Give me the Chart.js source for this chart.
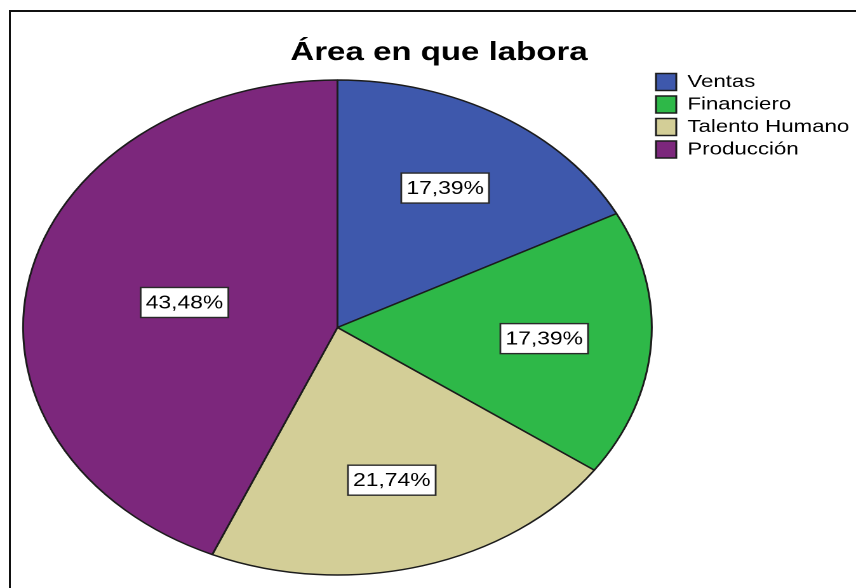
<!DOCTYPE html>
<html lang="es">
<head>
<meta charset="utf-8">
<title>Área en que labora</title>
<script src="https://cdn.jsdelivr.net/npm/chart.js@4.4.1/dist/chart.umd.min.js"></script>
<style>
  html, body { margin: 0; padding: 0; background: #fff; overflow: hidden; }
  body { width: 856px; height: 588px; position: relative; }
  /* marco del visor, sale por la derecha y por abajo */
  .marco { position: absolute; left: 9px; top: 10px; width: 900px; height: 700px;
           border-left: 2px solid #111; border-top: 2px solid #111; }
  /* el grafico original esta estirado a lo ancho (pastel eliptico) */
  .lienzo { position: absolute; left: 0; top: 0; width: 700px; height: 588px;
            transform: scaleX(1.27); transform-origin: 0 0; }
</style>
</head>
<body>
<div class="marco"></div>
<div class="lienzo"><canvas id="grafico" width="700" height="588"></canvas></div>
<script>
// ---- DATOS ----
var titulo      = 'Área en que labora';
var categorias  = ['Ventas', 'Financiero', 'Talento Humano', 'Producción'];
var porcentajes = [17.39, 17.39, 21.74, 43.48];
var colores     = ['#3e58ac', '#2eb848', '#d3ce97', '#7c277c'];

function fmtPct(v) {
  return v.toFixed(2).replace('.', ',') + '%';
}

// ---- ETIQUETAS EN CAJA BLANCA (centroide de cada sector) ----
var pluginEtiquetas = {
  id: 'etiquetas',
  afterDatasetsDraw: function(chart) {
    var ctx  = chart.ctx;
    var meta = chart.getDatasetMeta(0);
    ctx.save();
    ctx.font = '18px "Liberation Sans", Arial, sans-serif';
    ctx.textAlign = 'center';
    ctx.textBaseline = 'middle';
    meta.data.forEach(function(arc, i) {
      var p    = arc.getProps(['x', 'y', 'startAngle', 'endAngle', 'outerRadius'], true);
      var half = (p.endAngle - p.startAngle) / 2;
      var mid  = p.startAngle + half;
      var d    = 1.04 * 2 * p.outerRadius * Math.sin(half) / (3 * half);
      var x    = p.x + Math.cos(mid) * d;
      var y    = p.y + Math.sin(mid) * d;
      var txt  = fmtPct(porcentajes[i]);
      var w    = ctx.measureText(txt).width + 8;
      var h    = 30;
      ctx.fillStyle = '#fff';
      ctx.fillRect(x - w / 2, y - h / 2, w, h);
      ctx.lineWidth = 1.4;
      ctx.strokeStyle = '#2a2a2a';
      ctx.strokeRect(x - w / 2, y - h / 2, w, h);
      ctx.fillStyle = '#000';
      ctx.fillText(txt, x, y + 1);
    });
    ctx.restore();
  }
};

Chart.defaults.font.family = '"Liberation Sans", Arial, sans-serif';

// ---- GRAFICO ----
new Chart(document.getElementById('grafico'), {
  type: 'pie',
  data: {
    labels: categorias,
    datasets: [{
      data: porcentajes,
      backgroundColor: colores,
      borderColor: '#1c1c1c',
      borderWidth: 1.5,
      radius: 247.5,
      clip: false
    }]
  },
  options: {
    responsive: false,
    devicePixelRatio: 2,
    animation: false,
    events: [],
    layout: { padding: { left: 19.9, right: 28.5, top: 0, bottom: 1.25 } },
    plugins: {
      title: {
        display: true,
        text: titulo,
        color: '#000',
        font: { size: 26, weight: 'bold', lineHeight: 1 },
        padding: { top: 40, bottom: 2.25 }
      },
      legend: {
        position: 'right',
        align: 'start',
        fullSize: false,
        maxWidth: 160,
        labels: { boxWidth: 16, boxHeight: 17, padding: 5, color: '#000', font: { size: 17.5 } }
      },
      tooltip: { enabled: false }
    }
  },
  plugins: [pluginEtiquetas]
});
</script>
</body>
</html>
